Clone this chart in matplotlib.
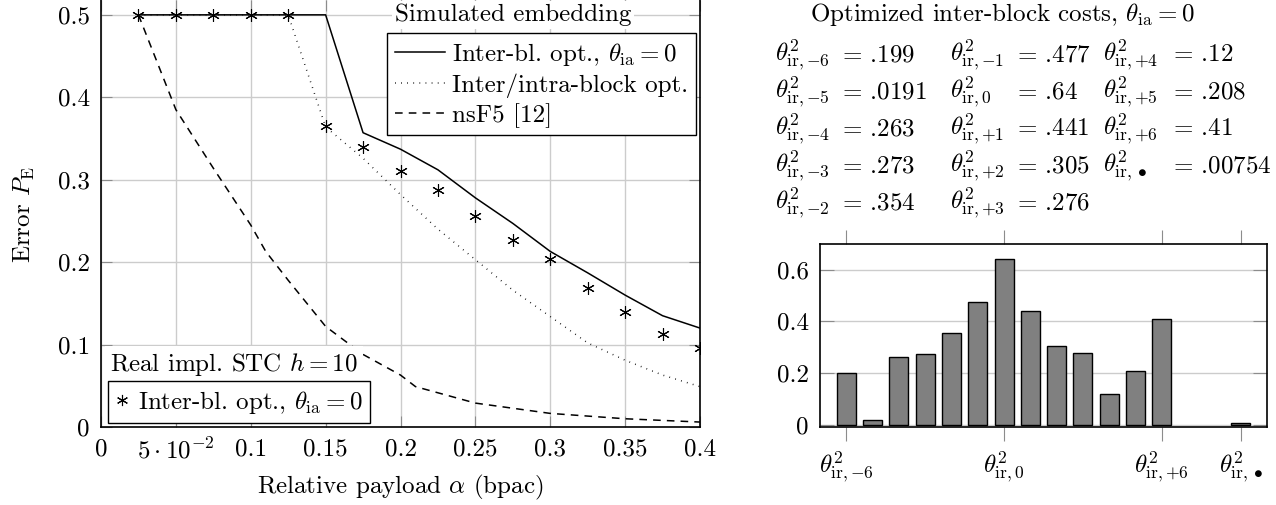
import matplotlib.pyplot as plt
from matplotlib.lines import Line2D

plt.rcParams['font.family'] = 'serif'
plt.rcParams['font.serif'] = ['cmr10']
plt.rcParams['mathtext.fontset'] = 'cm'
plt.rcParams['axes.unicode_minus'] = False
plt.rcParams['font.size'] = 18

# left panel data
alpha = [0.025, 0.05, 0.075, 0.1, 0.125, 0.15, 0.175, 0.2, 0.225, 0.25,
         0.275, 0.3, 0.325, 0.35, 0.375, 0.4]
inter_bl = [0.5, 0.5, 0.5, 0.5, 0.5, 0.5, 0.357, 0.337, 0.312, 0.278,
            0.247, 0.213, 0.187, 0.160, 0.135, 0.120]
inter_intra = [0.5, 0.5, 0.5, 0.5, 0.5, 0.364, 0.326, 0.282, 0.240, 0.203,
               0.166, 0.134, 0.102, 0.081, 0.063, 0.049]
real_stc = [0.5, 0.5, 0.5, 0.5, 0.5, 0.365, 0.340, 0.310, 0.287, 0.2565,
            0.227, 0.2035, 0.169, 0.140, 0.113, 0.0955]
alpha_nsf5 = [0.025, 0.05, 0.075, 0.1, 0.11, 0.125, 0.15, 0.175, 0.2, 0.21,
              0.25, 0.3, 0.35, 0.4]
nsf5 = [0.5, 0.385, 0.314, 0.245, 0.213, 0.178, 0.122, 0.088, 0.063, 0.049,
        0.029, 0.0165, 0.010, 0.006]

xticks = [0, 0.05, 0.1, 0.15, 0.2, 0.25, 0.3, 0.35, 0.4]
xticklabels = ['0', r'$5\cdot10^{-2}$', '0.1', '0.15', '0.2', '0.25', '0.3', '0.35', '0.4']
yticks = [0, 0.1, 0.2, 0.3, 0.4, 0.5]
yticklabels = ['0', '0.1', '0.2', '0.3', '0.4', '0.5']

# right panel data
pos = [-6, -5, -4, -3, -2, -1, 0, 1, 2, 3, 4, 5, 6, 9]
names = ['{-}6', '{-}5', '{-}4', '{-}3', '{-}2', '{-}1', '0', '{+}1', '{+}2', '{+}3',
         '{+}4', '{+}5', '{+}6', r'\bullet']
costs = [0.199, 0.0191, 0.263, 0.273, 0.354, 0.477, 0.64, 0.441, 0.305, 0.276,
         0.12, 0.208, 0.41, 0.00754]
cost_txt = ['.199', '.0191', '.263', '.273', '.354', '.477', '.64', '.441', '.305',
            '.276', '.12', '.208', '.41', '.00754']
bar_ticks = [-6, 0, 6, 9]
bar_ticklabels = [r'$\theta^2_{\mathrm{ir},{-}6}$', r'$\theta^2_{\mathrm{ir},0}$',
                  r'$\theta^2_{\mathrm{ir},{+}6}$', r'$\theta^2_{\mathrm{ir},\bullet}$']

W, H = 1276, 505
fig = plt.figure(figsize=(W / 100, H / 100), dpi=100)

# ---------------- left panel ----------------
ax = fig.add_axes([101 / W, 1 - 427 / H, 599 / W, 427 / H])
ax.plot(alpha, inter_bl, color='black', lw=1.1)
ax.plot(alpha, inter_intra, color='black', lw=1.1, linestyle=(0, (0.5, 3.5)))
ax.plot(alpha_nsf5, nsf5, color='black', lw=1.1, linestyle=(0, (5, 4)))
ax.plot(alpha, real_stc, linestyle='none', marker=(6, 2, 0), markersize=9,
        markeredgewidth=0.8, color='black')
ax.set_xlim(0, 0.4)
ax.set_ylim(0, 0.518)
ax.set_xticks(xticks)
ax.set_xticklabels(xticklabels)
ax.set_yticks(yticks)
ax.set_yticklabels(yticklabels)
ax.grid(True, color='#cccccc', lw=1.0)
ax.set_axisbelow(True)
ax.tick_params(direction='in', length=8, color='0.55', top=True, right=True,
               pad=8)
ax.spines['top'].set_visible(False)
for s in ['left', 'right', 'bottom']:
    ax.spines[s].set_linewidth(1.2)
fig.text(400 / W, 1 - 487 / H, r'Relative payload $\alpha$ (bpac)',
         ha='center', va='center')
fig.text(24 / W, 1 - 215 / H, r'Error $P_{\mathrm{E}}$', ha='center',
         va='center', rotation=90)

h1 = [Line2D([], [], color='black', lw=1.1),
      Line2D([], [], color='black', lw=1.1, linestyle=(0, (0.5, 3.5))),
      Line2D([], [], color='black', lw=1.1, linestyle=(0, (5, 4)))]
l1 = [r'Inter-bl. opt., $\theta_{\mathrm{ia}} = 0$', 'Inter/intra-block opt.',
      'nsF5 [12]']
leg1 = fig.legend(h1, l1, loc='upper left', bbox_to_anchor=(387 / W, 1 - 33 / H),
                  borderaxespad=0, fancybox=False, edgecolor='black',
                  framealpha=1, handlelength=2.0, handletextpad=0.3,
                  labelspacing=0.22, borderpad=0.3)
leg1.get_frame().set_linewidth(1.0)
fig.text(513 / W, 1 - 15 / H, 'Simulated embedding', ha='center', va='center',
         bbox=dict(facecolor='white', edgecolor='none', pad=2))

fig.text(110 / W, 1 - 365 / H, r'Real impl. STC $h = 10$', ha='left', va='center',
         bbox=dict(facecolor='white', edgecolor='none', pad=4))
h2 = [Line2D([], [], linestyle='none', marker=(6, 2, 0), markersize=8,
             markeredgewidth=0.8, color='black')]
leg2 = fig.legend(h2, [r'Inter-bl. opt., $\theta_{\mathrm{ia}} = 0$'],
                  loc='upper left', bbox_to_anchor=(108 / W, 1 - 381 / H),
                  borderaxespad=0, fancybox=False, edgecolor='black',
                  framealpha=1, handlelength=0.5, handletextpad=0.4,
                  borderpad=0.3)
leg2.get_frame().set_linewidth(1.0)

# ---------------- right panel: text table ----------------
fig.text(1002 / W, 1 - 14 / H, r'Optimized inter-block costs, $\theta_{\mathrm{ia}} = 0$',
         ha='center', va='center')
col_x = [775, 950, 1103]
eq_x = [838, 1013, 1169]
row_y = [55, 92, 129, 166, 203]
for k in range(len(names)):
    c, r = k // 5, k % 5
    fig.text(col_x[c] / W, 1 - row_y[r] / H,
             r'$\theta^2_{\mathrm{ir},%s}$' % names[k], ha='left', va='center')
    fig.text(eq_x[c] / W, 1 - row_y[r] / H, r'$=\,$' + cost_txt[k],
             ha='left', va='center')

# ---------------- right panel: bars ----------------
bx = fig.add_axes([820 / W, 1 - 427 / H, 447 / W, 183 / H])
bx.bar(pos, costs, width=0.72, color='#808080', edgecolor='black', lw=1.0)
bx.set_xlim(-7, 10)
bx.set_ylim(-0.009, 0.70)
bx.set_yticks([0, 0.2, 0.4, 0.6])
bx.set_yticklabels(['0', '0.2', '0.4', '0.6'])
bx.set_xticks(bar_ticks)
bx.set_xticklabels(bar_ticklabels)
bx.grid(True, axis='y', color='#cccccc', lw=1.0)
bx.set_axisbelow(True)
bx.tick_params(axis='y', direction='in', length=10, color='0.55', right=True, pad=8)
bx.tick_params(axis='x', direction='out', length=10, color='0.55', top=True, pad=6)
for s in bx.spines.values():
    s.set_linewidth(1.2)

fig.savefig('out.png', dpi=100)
